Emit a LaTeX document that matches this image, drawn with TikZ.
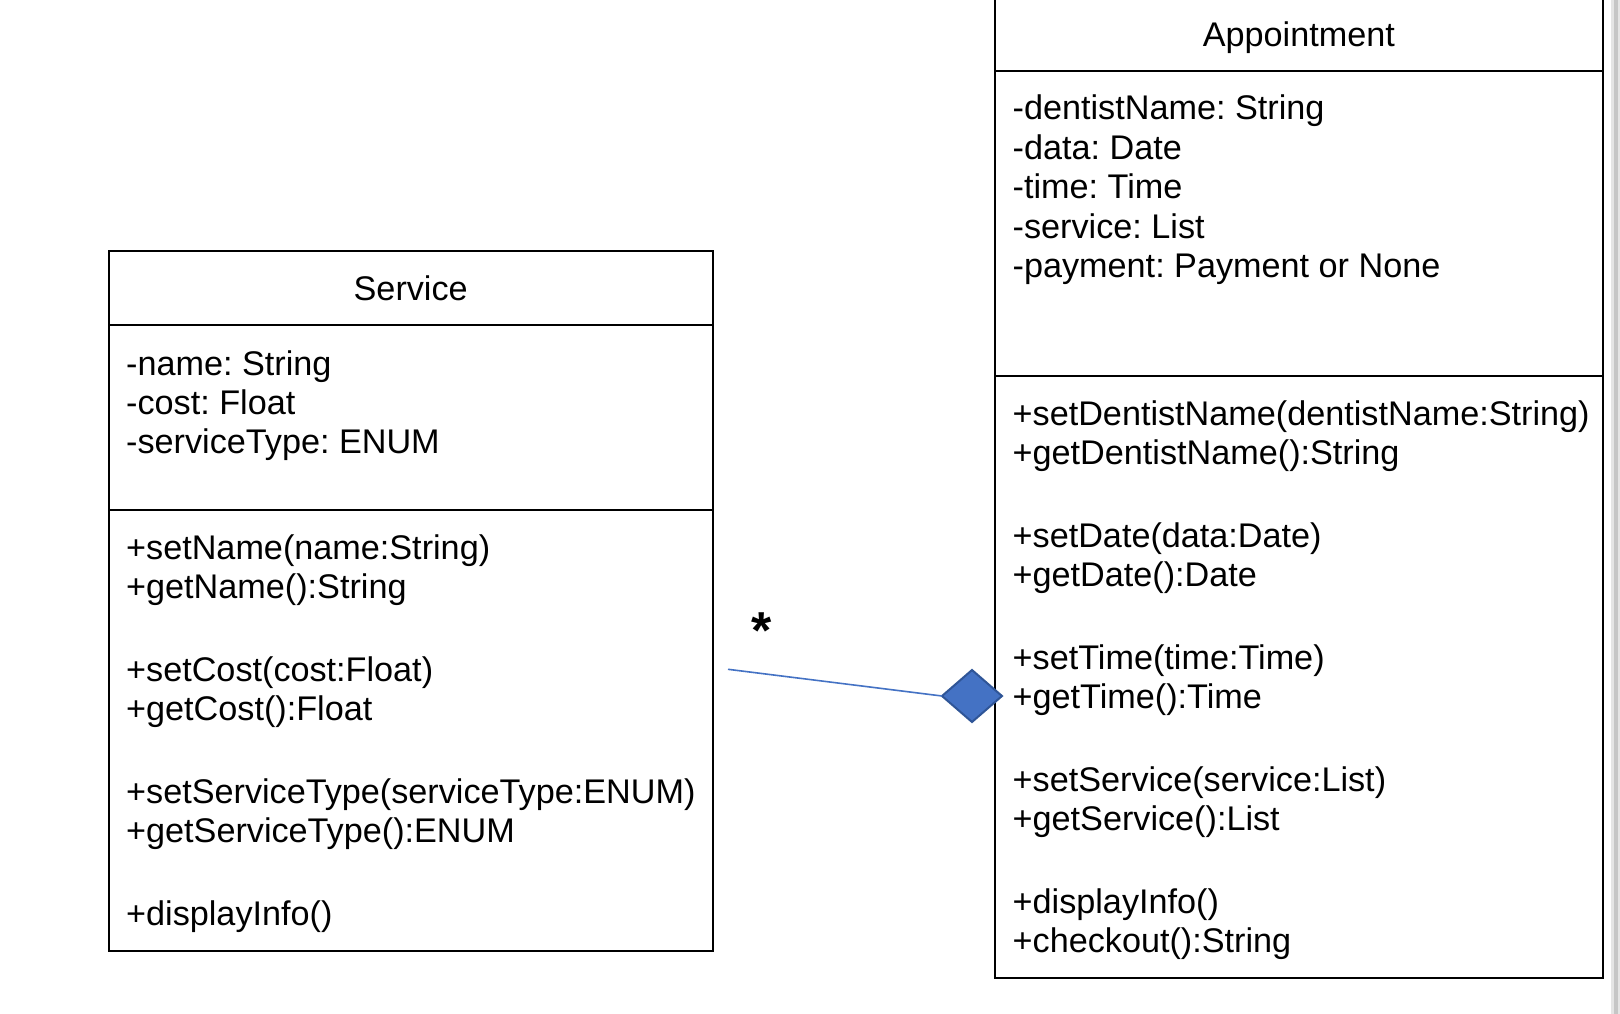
\documentclass[tikz,border=0pt]{standalone}
\usepackage{fontspec}
\setmainfont{Liberation Sans}
\usepackage{xcolor}
\usetikzlibrary{shapes.geometric, positioning}

\definecolor{aggrfill}{HTML}{4472C4}
\definecolor{aggrline}{HTML}{2F5597}
\newcommand{\umlfont}{\fontsize{34.2}{39}\selectfont\frenchspacing}

\begin{document}
\begin{tikzpicture}[
    x=1pt, y=-1pt,
    classbox/.style={draw, line width=2pt},
    title/.style={font=\umlfont, anchor=base, inner sep=0pt},
    members/.style={font=\umlfont, align=left, anchor=base west, inner sep=0pt},
    aggr/.style={diamond, draw=aggrline, fill=aggrfill, line width=2pt, minimum width=60pt, minimum height=52pt, inner sep=0pt, outer sep=0pt},
    link/.style={draw=aggrfill, line width=1.6pt},
    mult/.style={font=\fontsize{52}{52}\selectfont\bfseries, anchor=north, inner sep=0pt}
]
\fill[white] (0,0) rectangle (1620,1014);
\useasboundingbox (0,0) rectangle (1620,1014);
\fill[gray!20] (1611,0) rectangle (1620,1014);
\fill[gray!45] (1614,0) rectangle (1618,1014);

% Service class (members placed by the baseline of their last line)
\draw[classbox] (108.5,251) rectangle (713,950.5);
\draw[classbox] (108.5,324.5) -- (713,324.5);
\draw[classbox] (108.5,510) -- (713,510);
\node[title] (svcname) at (410.7,300.5) {Service};
\node[members] (svcattr) at (126,453) {-name: String\\-cost: Float\\-serviceType: ENUM};
\node[members] (svcops) at (126,925) {+setName(name:String)\\+getName():String\\[44pt]
    +setCost(cost:Float)\\+getCost():Float\\[44pt]
    +setServiceType(serviceType:ENUM)\\+getServiceType():ENUM\\[44pt]
    +displayInfo()};

% Appointment class
\draw[classbox] (995,0) -- (995,977.5) -- (1602.5,977.5) -- (1602.5,0);
\draw[classbox] (995,71.3) -- (1602.5,71.3);
\draw[classbox] (995,376) -- (1602.5,376);
\node[title] (aptname) at (1298.8,46.3) {Appointment};
\node[members] (aptattr) at (1012.5,277.5) {-dentistName: String\\[0.5pt]-data: Date\\[0.5pt]-time: Time\\[0.5pt]-service: List\\[0.5pt]-payment: Payment or None};
\node[members] (aptops) at (1012.5,952) {+setDentistName(dentistName:String)\\+getDentistName():String\\[44pt]
    +setDate(data:Date)\\+getDate():Date\\[44pt]
    +setTime(time:Time)\\+getTime():Time\\[44pt]
    +setService(service:List)\\+getService():List\\[44pt]
    +displayInfo()\\+checkout():String};

% Aggregation
\node[aggr] (agg) at (972,696) {};
\coordinate (linkend) at (728,669.3);
\draw[link] (linkend) -- (agg.west);
\node[mult] (svcmult) at (761.7,613) {*};
\end{tikzpicture}
\end{document}
